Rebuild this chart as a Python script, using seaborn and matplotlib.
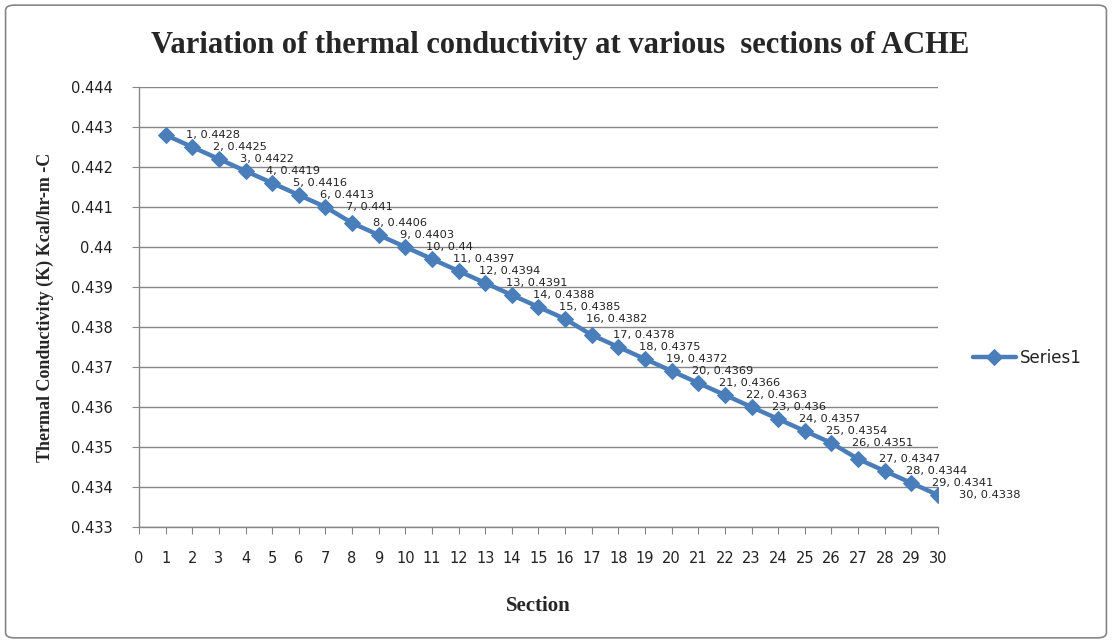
import matplotlib
matplotlib.use("Agg")
import matplotlib.pyplot as plt
import seaborn as sns
import pandas as pd
from matplotlib.patches import FancyBboxPatch

sections = list(range(1, 31))
conductivity = [0.4428, 0.4425, 0.4422, 0.4419, 0.4416, 0.4413, 0.441, 0.4406,
                0.4403, 0.44, 0.4397, 0.4394, 0.4391, 0.4388, 0.4385, 0.4382,
                0.4378, 0.4375, 0.4372, 0.4369, 0.4366, 0.4363, 0.436, 0.4357,
                0.4354, 0.4351, 0.4347, 0.4344, 0.4341, 0.4338]
y_ticks = [0.433, 0.434, 0.435, 0.436, 0.437, 0.438, 0.439, 0.44, 0.441, 0.442, 0.443, 0.444]
y_tick_labels = ["0.433", "0.434", "0.435", "0.436", "0.437", "0.438", "0.439", "0.44",
                 "0.441", "0.442", "0.443", "0.444"]
title = "Variation of thermal conductivity at various  sections of ACHE"
x_label = "Section"
y_label = "Thermal Conductivity (K) Kcal/hr-m -C"
series_name = "Series1"

df = pd.DataFrame({"Section": sections, "K": conductivity, "series": series_name})

sns.set_style("white")
plt.rcParams['font.family'] = ['DejaVu Sans']

fig = plt.figure(figsize=(11.12, 6.43), dpi=100)
ax = fig.add_axes([0.125, 0.1804, 0.7185, 0.6843])

blue = "#4A7EBB"
sns.lineplot(data=df, x="Section", y="K", hue="series", palette=[blue], marker="D",
             markersize=8.5, linewidth=3.2, markeredgecolor=blue, ax=ax, legend=True)

for x, y in zip(sections, conductivity):
    ax.annotate(f"{x}, {y:g}", (x, y), xytext=(15, 0), textcoords="offset points",
                fontsize=8.2, color="#222222", va="center", ha="left",
                annotation_clip=False)

ax.set_xlim(0, 30)
ax.set_ylim(0.433, 0.444)
ax.set_xticks(range(0, 31))
ax.set_xticklabels([str(i) for i in range(0, 31)], fontsize=10.5, color="#222222")
ax.set_yticks(y_ticks)
ax.set_yticklabels(y_tick_labels, fontsize=10.5, color="#222222")
ax.tick_params(axis="x", pad=12, length=5, color="#868686", direction="out", bottom=True)
ax.tick_params(axis="y", pad=14, length=5, color="#868686", direction="out", left=True)
ax.grid(axis="y", color="#868686", linewidth=1)
ax.grid(axis="x", visible=False)
for s in ["top", "right"]:
    ax.spines[s].set_visible(False)
for s in ["left", "bottom"]:
    ax.spines[s].set_color("#868686")
    ax.spines[s].set_linewidth(1)

ax.set_xlabel(x_label, fontsize=15, fontweight="bold", family="Liberation Serif", labelpad=22)
ax.set_ylabel(y_label, fontsize=13, fontweight="bold", family="Liberation Serif", labelpad=12)

fig.text(0.504, 0.93, title, fontsize=22, fontweight="bold", family="Liberation Serif",
         ha="center", va="center")

leg = ax.legend(loc="center left", bbox_to_anchor=(1.035, 0.384), frameon=False,
                fontsize=12, handlelength=2.6, handletextpad=0.25, borderaxespad=0)
for t in leg.get_texts():
    t.set_color("#222222")

border = FancyBboxPatch((0.005, 0.008), 0.99, 0.984, boxstyle="round,pad=0,rounding_size=0.008",
                        transform=fig.transFigure, fill=False, edgecolor="#868686", linewidth=1.2)
fig.patches.append(border)

fig.savefig("out.png", dpi=100)
